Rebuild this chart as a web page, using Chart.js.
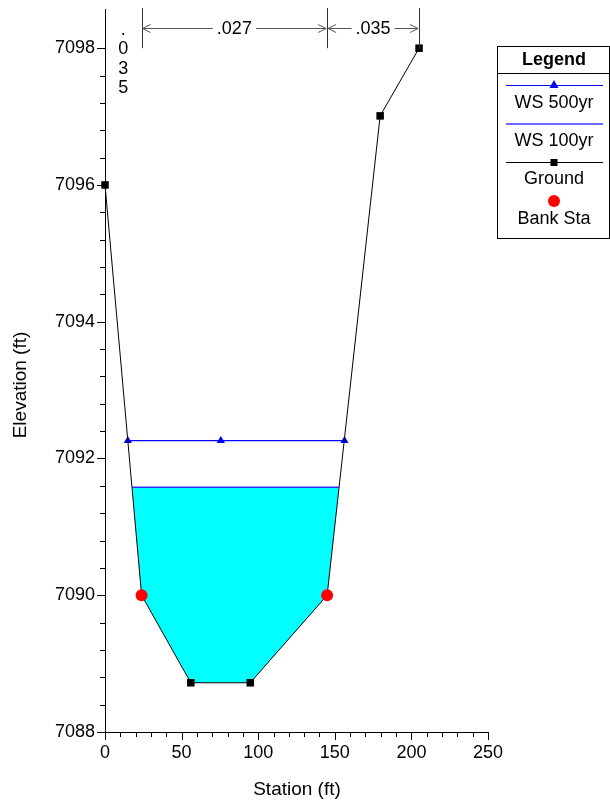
<!DOCTYPE html>
<html>
<head>
<meta charset="utf-8">
<script src="https://cdn.jsdelivr.net/npm/chart.js@4.4.0/dist/chart.umd.min.js"></script>
<style>
  body { margin: 0; background: #fff; }
  canvas { display: block; }
</style>
</head>
<body>
<canvas id="chart" width="610" height="801"></canvas>
<script>
// cross section data
const groundSta = [0, 23.9, 56, 94.8, 145, 179.6, 205];
const groundElev = [7096, 7090, 7088.72, 7088.72, 7090, 7097.01, 7098];
const bankSta = [23.9, 145];
const bankElev = [7090, 7090];
const ws500Sta = [14.9, 75.6, 156.3];
const ws500Elev = 7092.26;
const ws100Sta = [17.7, 152.6];
const ws100Elev = 7091.58;

// manning's n zones
const nBreaks = [0, 23.9, 145, 205];
const nValues = ['.035', '.027', '.035'];

const FONT = '"Liberation Sans", Arial, sans-serif';

const pts = (xs, ys) => xs.map((x, i) => ({ x: x, y: Array.isArray(ys) ? ys[i] : ys }));

// water polygon: ground below the 100yr water surface, closed at the WS edges
const waterPts = [{ x: ws100Sta[0], y: ws100Elev }]
  .concat(pts(groundSta, groundElev).filter(p => p.y < ws100Elev))
  .concat([{ x: ws100Sta[1], y: ws100Elev }]);

const isMajorY = v => Math.abs(v / 2 - Math.round(v / 2)) < 1e-6;
const isMajorX = v => Math.abs(v / 50 - Math.round(v / 50)) < 1e-6;

const decorations = {
  id: 'decorations',
  afterDraw(chart) {
    const ctx = chart.ctx;
    const xs = chart.scales.x, ys = chart.scales.y;
    const area = chart.chartArea;
    ctx.save();

    // tick marks
    ctx.strokeStyle = '#000';
    ctx.lineWidth = 1;
    ys.ticks.forEach(t => {
      const y = Math.round(ys.getPixelForValue(t.value)) + 0.5;
      const len = isMajorY(t.value) ? 8 : 5;
      ctx.beginPath();
      ctx.moveTo(area.left - len, y);
      ctx.lineTo(area.left, y);
      ctx.stroke();
    });
    xs.ticks.forEach(t => {
      const x = Math.round(xs.getPixelForValue(t.value)) + 0.5;
      const len = isMajorX(t.value) ? 8 : 5;
      ctx.beginPath();
      ctx.moveTo(x, area.bottom);
      ctx.lineTo(x, area.bottom + len);
      ctx.stroke();
    });

    // axis titles
    ctx.fillStyle = '#000';
    ctx.font = '19px ' + FONT;
    ctx.textAlign = 'center';
    ctx.textBaseline = 'middle';
    ctx.fillText('Station (ft)', 297, 790);
    ctx.save();
    ctx.translate(21, 385);
    ctx.rotate(-Math.PI / 2);
    ctx.fillText('Elevation (ft)', 0, 0);
    ctx.restore();

    // manning's n markers along the top
    const yTop = 8, yBot = ys.getPixelForValue(7098), yArr = 28;
    ctx.strokeStyle = '#333';
    for (let i = 1; i < nBreaks.length; i++) {
      const x = Math.round(xs.getPixelForValue(nBreaks[i])) + 0.5;
      ctx.beginPath();
      ctx.moveTo(x, yTop);
      ctx.lineTo(x, yBot);
      ctx.stroke();
    }
    ctx.font = '18px ' + FONT;
    for (let i = 0; i < nValues.length; i++) {
      const x0 = xs.getPixelForValue(nBreaks[i]);
      const x1 = xs.getPixelForValue(nBreaks[i + 1]);
      if (x1 - x0 < 60) {
        // narrow zone: write the value vertically
        ctx.fillStyle = '#000';
        ctx.textAlign = 'center';
        nValues[i].split('').forEach((c, k) => {
          ctx.fillText(c, (x0 + x1) / 2, 30 + k * 19.5);
        });
        continue;
      }
      const xm = (x0 + x1) / 2;
      const tw = ctx.measureText(nValues[i]).width;
      ctx.fillStyle = '#000';
      ctx.textAlign = 'center';
      ctx.fillText(nValues[i], xm, yArr + 1);
      ctx.strokeStyle = '#555';
      ctx.beginPath();
      ctx.moveTo(x0 + 1, yArr + 0.5);
      ctx.lineTo(xm - tw / 2 - 4, yArr + 0.5);
      ctx.moveTo(xm + tw / 2 + 4, yArr + 0.5);
      ctx.lineTo(x1 - 1, yArr + 0.5);
      // open arrow heads
      ctx.moveTo(x0 + 9, yArr - 3.5);
      ctx.lineTo(x0 + 1, yArr + 0.5);
      ctx.lineTo(x0 + 9, yArr + 4.5);
      ctx.moveTo(x1 - 9, yArr - 3.5);
      ctx.lineTo(x1 - 1, yArr + 0.5);
      ctx.lineTo(x1 - 9, yArr + 4.5);
      ctx.stroke();
    }

    // legend box
    const lx = 497, ly = 46, lw = 112, lh = 192, cx = lx + lw / 2 + 1;
    ctx.strokeStyle = '#000';
    ctx.lineWidth = 1;
    ctx.strokeRect(lx + 0.5, ly + 0.5, lw, lh);
    ctx.beginPath();
    ctx.moveTo(lx, 73.5);
    ctx.lineTo(lx + lw, 73.5);
    ctx.stroke();
    ctx.fillStyle = '#000';
    ctx.textAlign = 'center';
    ctx.font = 'bold 18px ' + FONT;
    ctx.fillText('Legend', cx, 60);
    ctx.font = '18px ' + FONT;

    const sample = (y, color, width) => {
      ctx.strokeStyle = color;
      ctx.lineWidth = width;
      ctx.beginPath();
      ctx.moveTo(506, y);
      ctx.lineTo(603, y);
      ctx.stroke();
    };
    sample(85.5, '#0000ff', 1);
    ctx.fillStyle = '#0000ff';
    ctx.beginPath();
    ctx.moveTo(cx, 80);
    ctx.lineTo(cx + 4.5, 88);
    ctx.lineTo(cx - 4.5, 88);
    ctx.closePath();
    ctx.fill();
    ctx.fillStyle = '#000';
    ctx.fillText('WS 500yr', cx, 103);

    sample(124, '#3b3bff', 1.5);
    ctx.fillText('WS 100yr', cx, 141);

    sample(162.5, '#000', 1);
    ctx.fillRect(cx - 3.5, 159, 7, 7);
    ctx.fillText('Ground', cx, 179);

    ctx.fillStyle = '#ff0000';
    ctx.beginPath();
    ctx.arc(cx, 201, 6, 0, Math.PI * 2);
    ctx.fill();
    ctx.fillStyle = '#000';
    ctx.fillText('Bank Sta', cx, 219);

    ctx.restore();
  }
};

new Chart(document.getElementById('chart'), {
  type: 'scatter',
  data: {
    datasets: [
      {
        label: 'Bank Sta',
        data: pts(bankSta, bankElev),
        showLine: false,
        pointStyle: 'circle',
        pointRadius: 6,
        backgroundColor: '#ff0000',
        borderWidth: 0
      },
      {
        label: 'Ground',
        data: pts(groundSta, groundElev),
        showLine: true,
        clip: false,
        borderColor: '#000',
        borderWidth: 1,
        pointStyle: 'rect',
        pointRadius: c => bankSta.includes(groundSta[c.dataIndex]) ? 0 : 5.3,
        backgroundColor: '#000',
        pointBorderWidth: 0
      },
      {
        label: 'WS 500yr',
        data: pts(ws500Sta, ws500Elev),
        showLine: true,
        borderColor: '#0000ff',
        borderWidth: 1.2,
        pointStyle: 'triangle',
        pointRadius: 4.8,
        backgroundColor: '#0000ff',
        pointBorderWidth: 0
      },
      {
        label: 'WS 100yr',
        data: pts(ws100Sta, ws100Elev),
        showLine: true,
        borderColor: '#3030ff',
        borderWidth: 1.5,
        pointRadius: 0
      },
      {
        label: 'water',
        data: waterPts,
        showLine: true,
        borderWidth: 0,
        borderColor: 'rgba(0,0,0,0)',
        backgroundColor: '#00ffff',
        fill: { value: ws100Elev },
        pointRadius: 0
      }
    ]
  },
  options: {
    responsive: false,
    animation: false,
    devicePixelRatio: 1,
    layout: { padding: { top: 8, right: 122, left: 0, bottom: 0 } },
    plugins: { legend: { display: false }, tooltip: { enabled: false } },
    scales: {
      x: {
        type: 'linear',
        min: 0,
        max: 250,
        afterBuildTicks: s => {
          s.ticks = [];
          for (let v = 0; v <= 250; v += 10) s.ticks.push({ value: v });
        },
        afterFit: s => { s.height = 69; },
        grid: { drawOnChartArea: false, drawTicks: true, tickLength: 8, color: 'rgba(0,0,0,0)' },
        border: { display: true, color: '#000', width: 1 },
        ticks: {
          autoSkip: false,
          maxRotation: 0,
          padding: 2,
          color: '#000',
          font: { family: FONT, size: 18 },
          callback: v => xLabelsOk(v)
        }
      },
      y: {
        type: 'linear',
        min: 7088,
        max: 7098.57,
        afterBuildTicks: s => {
          s.ticks = [];
          for (let i = 0; i <= 25; i++) s.ticks.push({ value: 7088 + i * 0.4 });
        },
        afterFit: s => { s.width = 105; },
        grid: { drawOnChartArea: false, drawTicks: true, tickLength: 8, color: 'rgba(0,0,0,0)' },
        border: { display: true, color: '#000', width: 1 },
        ticks: {
          autoSkip: false,
          padding: 2,
          color: '#000',
          font: { family: FONT, size: 18, lineHeight: 0.8 },
          callback: v => isMajorY(v) ? String(Math.round(v)) : ''
        }
      }
    }
  },
  plugins: [decorations]
});

function xLabelsOk(v) {
  return isMajorX(v) ? String(Math.round(v)) : '';
}
</script>
</body>
</html>
